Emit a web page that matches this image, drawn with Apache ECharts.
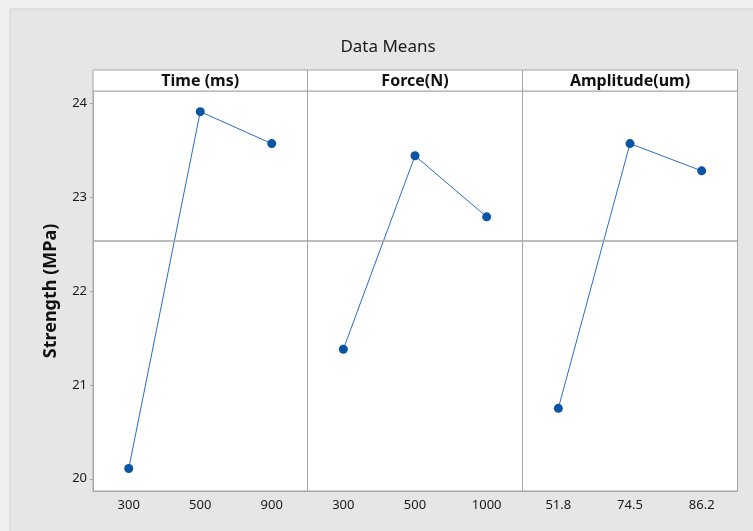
<!DOCTYPE html>
<html><head><meta charset="utf-8">
<script src="https://cdn.jsdelivr.net/npm/echarts@6/dist/echarts.min.js"></script>
<style>html,body{margin:0;padding:0;background:#f0f0f0}#c{width:753px;height:531px}</style>
</head><body><div id="c"></div>
<script>
// ---- data ----
const chartTitle = 'Data Means';
const yAxisName = 'Strength (MPa)';
const panelNames = ['Time (ms)', 'Force(N)', 'Amplitude(um)'];
const timeLevels = ['300', '500', '900'];
const forceLevels = ['300', '500', '1000'];
const ampLevels = ['51.8', '74.5', '86.2'];
const timeMeans = [20.11, 23.91, 23.57];
const forceMeans = [21.38, 23.44, 22.79];
const ampMeans = [20.75, 23.57, 23.28];
const yTicks = [20, 21, 22, 23, 24];
const yMin = 19.87, yMax = 24.13;

// ---- layout ----
const levels = [timeLevels, forceLevels, ampLevels];
const means = [timeMeans, forceMeans, ampMeans];
const all = [].concat(timeMeans, forceMeans, ampMeans);
const grandMean = all.reduce((a, b) => a + b, 0) / all.length;

const lefts = [93, 307.5, 522.5];
const widths = [214.5, 215, 215];
const gridTop = 91, gridHeight = 400, headTop = 70, headH = 21;
const frameColor = '#a6a6a6';
const fontFam = '"Noto Sans", sans-serif';

const grids = [], xAxes = [], yAxes = [], series = [], graphics = [];
graphics.push({ type: 'rect', z: -10, shape: { x: 10, y: 9, width: 800, height: 600 },
  style: { fill: '#e6e6e6', stroke: '#d2d2d2', lineWidth: 1 } });
graphics.push({ type: 'text', x: 388, y: 47, style: { text: chartTitle, fill: '#1a1a1a',
  font: '17px ' + fontFam, textAlign: 'center', textVerticalAlign: 'middle' } });

for (let i = 0; i < 3; i++) {
  grids.push({ left: lefts[i], top: gridTop, width: widths[i], height: gridHeight,
    show: true, backgroundColor: '#ffffff', borderColor: frameColor, borderWidth: 1 });
  graphics.push({ type: 'rect', shape: { x: lefts[i], y: headTop, width: widths[i], height: headH },
    style: { fill: '#ffffff', stroke: frameColor, lineWidth: 1 } });
  graphics.push({ type: 'text', x: lefts[i] + widths[i] / 2, y: headTop + headH / 2 + 0.5,
    style: { text: panelNames[i], fill: '#111', font: 'bold 16px ' + fontFam,
      textAlign: 'center', textVerticalAlign: 'middle' } });
  xAxes.push({ type: 'category', gridIndex: i, data: levels[i], boundaryGap: true,
    axisLine: { lineStyle: { color: frameColor } },
    axisTick: { alignWithLabel: true, length: 3, lineStyle: { color: frameColor } },
    axisLabel: { color: '#1a1a1a', fontSize: 13, fontFamily: fontFam, margin: 8 } });
  yAxes.push({ type: 'value', gridIndex: i, min: yMin, max: yMax, show: i === 0,
    splitLine: { show: false },
    axisLine: { show: true, lineStyle: { color: frameColor } },
    axisTick: { show: true, length: 3, customValues: yTicks, lineStyle: { color: frameColor } },
    axisLabel: { customValues: yTicks, color: '#1a1a1a', fontSize: 13, fontFamily: fontFam, margin: 6 },
    name: i === 0 ? yAxisName : '', nameLocation: 'middle', nameRotate: 90, nameGap: 33,
    nameTextStyle: { fontWeight: 'bold', fontSize: 18, color: '#111', fontFamily: fontFam } });
  series.push({ type: 'line', xAxisIndex: i, yAxisIndex: i, data: means[i],
    symbol: 'circle', symbolSize: 9, itemStyle: { color: '#0a55a3' },
    lineStyle: { color: '#2a6cc0', width: 1 },
    markLine: { silent: true, symbol: 'none', label: { show: false },
      lineStyle: { color: '#a6a6a6', width: 1.5, type: 'solid' },
      data: [{ yAxis: grandMean }] } });
}

const chart = echarts.init(document.getElementById('c'));
chart.setOption({ animation: false, backgroundColor: '#f0f0f0',
  grid: grids, xAxis: xAxes, yAxis: yAxes, series: series, graphic: graphics });
</script></body></html>
